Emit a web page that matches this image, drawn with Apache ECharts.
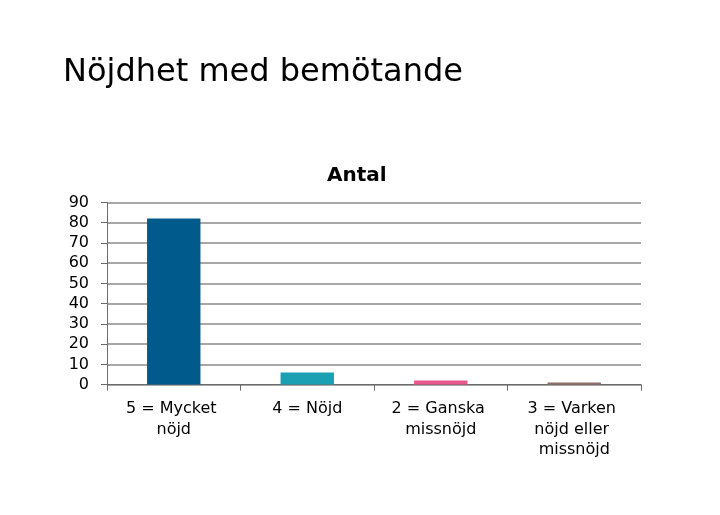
<!DOCTYPE html>
<html>
<head>
<meta charset="utf-8">
<script src="https://cdn.jsdelivr.net/npm/echarts@6/dist/echarts.min.js"></script>
<style>
  html, body { margin: 0; padding: 0; background: #fff; }
  #chart { width: 720px; height: 515px; }
</style>
</head>
<body>
<div id="chart"></div>
<script>
var categories = ["5 = Mycket nöjd", "4 = Nöjd", "2 = Ganska missnöjd", "3 = Varken nöjd eller missnöjd"];
var antal = [82, 6, 2, 1];
var barColors = ["#005a8b", "#1ba0b3", "#e9578b", "#8e6f68"];

var chart = echarts.init(document.getElementById("chart"));

var option = {
  animation: false,
  title: [
    {
      text: "Nöjdhet med bemötande",
      left: 63,
      top: 57,
      padding: 0,
      textStyle: { fontFamily: "DejaVu Sans", fontSize: 32, fontWeight: "normal", color: "#000", lineHeight: 32 }
    },
    {
      text: "Antal",
      left: 327,
      top: 166,
      padding: 0,
      textStyle: { fontFamily: "DejaVu Sans", fontSize: 20, fontWeight: "bold", color: "#000", lineHeight: 20 }
    }
  ],
  grid: { left: 107, right: 79, top: 202.4, bottom: 130.4 },
  xAxis: {
    type: "category",
    data: categories,
    axisLine: { lineStyle: { color: "#6b6b6b", width: 1 } },
    axisTick: { show: true, length: 6, lineStyle: { color: "#6b6b6b" } },
    axisLabel: {
      fontFamily: "DejaVu Sans",
      fontSize: 16,
      color: "#000",
      margin: 14,
      lineHeight: 20.5,
      width: 110,
      overflow: "break",
      interval: 0
    }
  },
  yAxis: {
    type: "value",
    min: 0,
    max: 90,
    interval: 10,
    axisLine: { show: true, lineStyle: { color: "#6b6b6b", width: 1 } },
    axisTick: { show: true, length: 6, lineStyle: { color: "#6b6b6b" } },
    axisLabel: { fontFamily: "DejaVu Sans", fontSize: 16, color: "#000", margin: 18 },
    splitLine: { lineStyle: { color: "#8a8a8a", width: 1.5 } }
  },
  series: [
    {
      name: "Antal",
      type: "bar",
      barWidth: "40%",
      data: antal.map(function (v, i) {
        return { value: v, itemStyle: { color: barColors[i] } };
      })
    }
  ]
};

chart.setOption(option);
</script>
</body>
</html>
